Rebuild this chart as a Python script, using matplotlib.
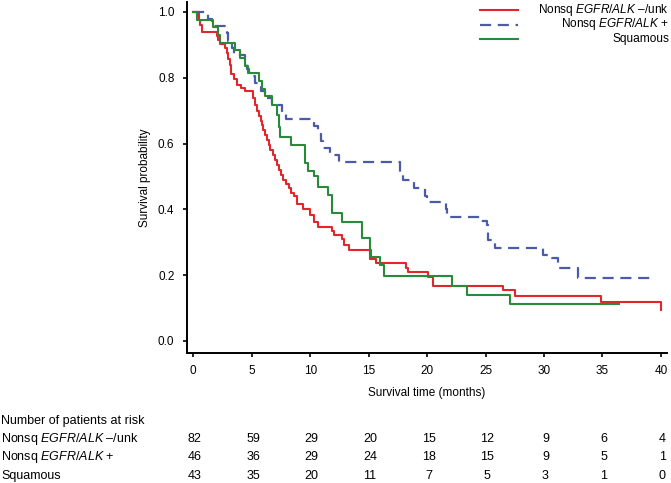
import numpy as np
import matplotlib
matplotlib.use("Agg")
import matplotlib.pyplot as plt
from matplotlib.lines import Line2D
from matplotlib.transforms import blended_transform_factory

plt.rcParams['font.family'] = ['Liberation Sans', 'DejaVu Sans']
plt.rcParams['mathtext.fontset'] = 'custom'
plt.rcParams['mathtext.rm'] = 'Liberation Sans'
plt.rcParams['mathtext.it'] = 'Liberation Sans:italic'

# Kaplan-Meier steps (time in months, survival after the step)
red_t = [0, 0.45, 0.6, 0.73, 2.0, 2.15, 2.3, 2.75, 2.9, 3.0, 3.1, 3.25, 3.5, 3.7, 4.1, 4.4,
         5.1, 5.3, 5.45, 5.6, 5.75, 5.9, 6.0, 6.15, 6.3, 6.45, 6.6, 6.8, 7.0, 7.15, 7.3,
         7.5, 7.7, 7.9, 8.15, 8.4, 8.6, 8.85, 9.4, 10.0, 10.3, 10.7, 11.85, 12.0, 12.7,
         12.85, 13.3, 15.1, 15.6, 18.2, 18.4, 20.05, 20.5, 26.5, 27.5, 34.85, 40.0]
red_s = [1.0, 0.976, 0.96, 0.94, 0.927, 0.915, 0.903, 0.89, 0.874, 0.857, 0.84, 0.81, 0.795,
         0.778, 0.77, 0.76, 0.738, 0.717, 0.70, 0.685, 0.67, 0.655, 0.64, 0.625, 0.61, 0.595,
         0.58, 0.565, 0.55, 0.535, 0.52, 0.505, 0.49, 0.478, 0.466, 0.45, 0.44, 0.415, 0.40,
         0.383, 0.363, 0.347, 0.335, 0.322, 0.31, 0.292, 0.277, 0.25, 0.236, 0.221, 0.211,
         0.195, 0.167, 0.155, 0.138, 0.119, 0.094]

blue_t = [0, 1.3, 1.6, 2.9, 3.0, 3.3, 3.5, 4.4, 4.6, 4.8, 5.3, 5.8, 6.1, 6.7, 7.6, 7.9,
          10.3, 10.7, 10.9, 11.1, 11.7, 12.5, 17.7, 17.9, 18.85, 19.8, 20.0, 21.6, 21.7,
          24.6, 25.1, 25.2, 25.8, 29.95, 30.7, 31.2, 32.9, 39.5]
blue_s = [1.0, 0.978, 0.957, 0.935, 0.913, 0.891, 0.87, 0.848, 0.826, 0.804, 0.783, 0.761,
          0.739, 0.717, 0.696, 0.674, 0.652, 0.63, 0.609, 0.587, 0.565, 0.543, 0.515, 0.489,
          0.465, 0.44, 0.423, 0.40, 0.378, 0.366, 0.353, 0.307, 0.282, 0.26, 0.251, 0.221,
          0.19, 0.19]

green_t = [0, 0.3, 1.7, 2.15, 2.3, 3.6, 4.0, 4.45, 4.7, 5.6, 5.9, 6.15, 6.7, 7.15, 7.3, 7.4,
           8.4, 9.55, 9.8, 10.3, 10.7, 11.55, 11.85, 11.9, 12.7, 14.4, 15.1, 15.2, 16.0, 16.3,
           22.1, 23.45, 27.1, 36.4]
green_s = [1.0, 0.977, 0.953, 0.93, 0.907, 0.884, 0.86, 0.837, 0.814, 0.791, 0.767, 0.744,
           0.716, 0.686, 0.651, 0.621, 0.596, 0.54, 0.518, 0.50, 0.469, 0.444, 0.403, 0.388,
           0.363, 0.312, 0.277, 0.256, 0.231, 0.198, 0.167, 0.14, 0.112, 0.112]

group_labels = [r"Nonsq $\mathit{EGFR/ALK}$ –/unk", r"Nonsq $\mathit{EGFR/ALK}$ +", "Squamous"]
risk_times = [0, 5, 10, 15, 20, 25, 30, 35, 40]
risk_red = [82, 59, 29, 20, 15, 12, 9, 6, 4]
risk_blue = [46, 36, 29, 24, 18, 15, 9, 5, 1]
risk_green = [43, 35, 20, 11, 7, 5, 3, 1, 0]

c_red = '#e3262b'
c_blue = '#4b5ba8'
c_green = '#2a8a3c'

W, H = 671, 483
fig = plt.figure(figsize=(W / 100, H / 100), dpi=100)
ax = fig.add_axes([186.9 / W, 1 - 352.7 / H, (667 - 186.9) / W, (352.7 - 2.1) / H])

ax.step(red_t, red_s, where='post', color=c_red, lw=1.5)
ax.step(blue_t, blue_s, where='post', color=c_blue, lw=1.6, linestyle=(0, (5, 3)))
ax.step(green_t, green_s, where='post', color=c_green, lw=1.5)

ax.set_xlim(-0.547, 40.52)
ax.set_ylim(-0.0356, 1.03)
ax.set_xticks(np.arange(0, 41, 5))
ax.set_yticks([0.0, 0.2, 0.4, 0.6, 0.8, 1.0])
ax.set_yticklabels(['0.0', '0.2', '0.4', '0.6', '0.8', '1.0'])
for s in ['top', 'right']:
    ax.spines[s].set_visible(False)
for s in ['left', 'bottom']:
    ax.spines[s].set_linewidth(1.4)
ax.tick_params(direction='out', length=3, width=1.2, pad=6, labelsize=8.5)

ax.set_xlabel('Survival time (months)', fontsize=8.5, labelpad=7)
ax.set_ylabel('Survival probability', fontsize=8.5, labelpad=5)

# legend, drawn by hand to keep text right-aligned
ys = [9.5, 24.5, 39.0]
styles = [dict(color=c_red, lw=1.5), dict(color=c_blue, lw=1.6, linestyle=(0, (5, 3))),
          dict(color=c_green, lw=1.5)]
for y, st, lab in zip(ys, styles, group_labels):
    fig.add_artist(Line2D([480 / W, 518 / W], [1 - y / H, 1 - y / H], **st))
    fig.text(669 / W, 1 - y / H, lab, ha='right', va='center', fontsize=8.6)

# number at risk table
trans = blended_transform_factory(ax.transData, fig.transFigure)
fig.text(1 / W, 1 - 421 / H, 'Number of patients at risk', ha='left', va='center', fontsize=9)
rows_y = [439.3, 457.3, 476.0]
for y, lab, vals in zip(rows_y, group_labels, [risk_red, risk_blue, risk_green]):
    fig.text(1 / W, 1 - y / H, lab, ha='left', va='center', fontsize=9)
    for t, v in zip(risk_times, vals):
        ax.text(t + 0.12, 1 - y / H, str(v), transform=trans, ha='center', va='center',
                fontsize=9, clip_on=False)

fig.savefig('out.png', dpi=100)
